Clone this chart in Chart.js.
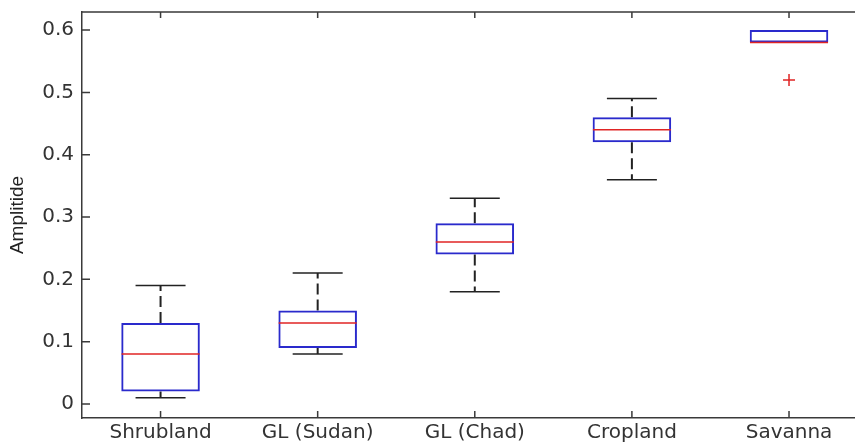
<!DOCTYPE html>
<html>
<head>
<meta charset="utf-8">
<script src="https://cdn.jsdelivr.net/npm/chart.js@4.4.1/dist/chart.umd.min.js"></script>
<style>
  body { margin: 0; background: #fff; }
  #wrap { width: 855px; height: 443px; position: relative; }
</style>
</head>
<body>
<div id="wrap"><canvas id="grafico"></canvas></div>
<script>
// Categorias y estadisticos de cada caja
const categories = ['Shrubland', 'GL (Sudan)', 'GL (Chad)', 'Cropland', 'Savanna'];
const whiskerLow = [0.01, 0.08, 0.18, 0.36, 0.58];
const quartile1 = [0.02, 0.09, 0.24, 0.42, 0.58];
const medians = [0.08, 0.13, 0.26, 0.44, 0.58];
const quartile3 = [0.13, 0.15, 0.29, 0.46, 0.60];
const whiskerHigh = [0.19, 0.21, 0.33, 0.49, 0.60];
const outlierCat = [5];
const outlierVal = [0.52];
const yTicks = [0, 0.1, 0.2, 0.3, 0.4, 0.5, 0.6];

const pos = categories.map((c, i) => i + 1);

// Bigotes: tramo superior e inferior de cada caja, separados con null
let whiskerPts = [];
pos.forEach((x, i) => {
  whiskerPts.push({x: x, y: quartile3[i]}, {x: x, y: whiskerHigh[i]}, {x: x, y: null});
  whiskerPts.push({x: x, y: quartile1[i]}, {x: x, y: whiskerLow[i]}, {x: x, y: null});
});

// Topes de los bigotes (si el bigote coincide con la caja no se dibuja)
let capPts = [];
pos.forEach((x, i) => {
  if (whiskerHigh[i] !== quartile3[i]) capPts.push({x: x, y: whiskerHigh[i]});
  if (whiskerLow[i] !== quartile1[i]) capPts.push({x: x, y: whiskerLow[i]});
});

const axisColor = '#3a3a3a';

// Sin margenes extra para las etiquetas de los extremos
function sinPadding(s) {
  s.paddingTop = 0;
  s.paddingBottom = 0;
  s.paddingLeft = 0;
  s.paddingRight = 0;
}

// Marco superior y marcas de los ejes hacia dentro
const marcas = {
  id: 'marcas',
  afterDraw(chart) {
    const {ctx, chartArea: a, scales} = chart;
    ctx.save();
    ctx.strokeStyle = axisColor;
    ctx.lineWidth = 1.5;
    ctx.beginPath();
    ctx.moveTo(a.left, a.top);
    ctx.lineTo(a.right, a.top);
    scales.x.ticks.forEach(t => {
      const px = scales.x.getPixelForValue(t.value);
      ctx.moveTo(px, a.top);
      ctx.lineTo(px, a.top + 6);
      ctx.moveTo(px, a.bottom);
      ctx.lineTo(px, a.bottom - 7);
    });
    scales.y.ticks.forEach(t => {
      const py = scales.y.getPixelForValue(t.value);
      ctx.moveTo(a.left, py);
      ctx.lineTo(a.left + 8, py);
    });
    ctx.stroke();
    ctx.restore();
  }
};

new Chart(document.getElementById('grafico'), {
  type: 'bar',
  data: {
    datasets: [
      {
        type: 'scatter',
        data: pos.map((x, i) => ({x: x, y: medians[i]})),
        pointStyle: 'line',
        radius: 39,
        borderColor: '#e02424',
        borderWidth: 1.5,
        order: 0
      },
      {
        type: 'bar',
        data: pos.map((x, i) => ({x: x, y: [quartile1[i], quartile3[i]]})),
        backgroundColor: 'rgba(0,0,0,0)',
        borderColor: '#2a2acc',
        borderWidth: 2,
        borderSkipped: false,
        categoryPercentage: 1,
        barPercentage: 0.5,
        order: 1
      },
      {
        type: 'scatter',
        data: outlierCat.map((c, i) => ({x: c, y: outlierVal[i]})),
        pointStyle: 'cross',
        radius: 6,
        borderColor: '#e02424',
        borderWidth: 1.5,
        order: 2
      },
      {
        type: 'scatter',
        data: capPts,
        pointStyle: 'line',
        radius: 25,
        borderColor: '#222',
        borderWidth: 1.5,
        order: 3
      },
      {
        type: 'line',
        data: whiskerPts,
        borderColor: '#222',
        borderWidth: 2,
        borderDash: [11, 5],
        pointRadius: 0,
        spanGaps: false,
        order: 4
      }
    ]
  },
  options: {
    responsive: true,
    maintainAspectRatio: false,
    animation: false,
    layout: { autoPadding: false, padding: { top: 12, left: 0, right: 0, bottom: 0 } },
    plugins: { legend: { display: false }, tooltip: { enabled: false } },
    scales: {
      x: {
        type: 'linear',
        offset: false,
        min: 0.5,
        max: 5.42,
        afterBuildTicks: s => { s.ticks = pos.map(v => ({value: v})); },
        afterFit: s => { s.height = 25; sinPadding(s); },
        grid: { display: true, drawOnChartArea: false, drawTicks: false },
        border: { display: true, color: axisColor, width: 1.5 },
        ticks: {
          padding: 3,
          color: '#333',
          font: { family: 'DejaVu Sans', size: 20 },
          maxRotation: 0,
          autoSkip: false,
          callback: v => categories[v - 1]
        }
      },
      y: {
        min: -0.0225,
        max: 0.629,
        afterBuildTicks: s => { s.ticks = yTicks.map(v => ({value: v})); },
        afterFit: s => { s.width = 82; sinPadding(s); },
        grid: { display: true, drawOnChartArea: false, drawTicks: false },
        border: { display: true, color: axisColor, width: 1.5 },
        ticks: {
          padding: 8,
          color: '#333',
          font: { family: 'DejaVu Sans', size: 20 },
          callback: v => v === 0 ? '0' : v.toFixed(1)
        },
        title: {
          display: true,
          text: 'Amplitide',
          color: '#222',
          padding: { top: 6, bottom: 0 },
          font: { family: 'Liberation Sans', size: 19 }
        }
      }
    }
  },
  plugins: [marcas]
});
</script>
</body>
</html>
